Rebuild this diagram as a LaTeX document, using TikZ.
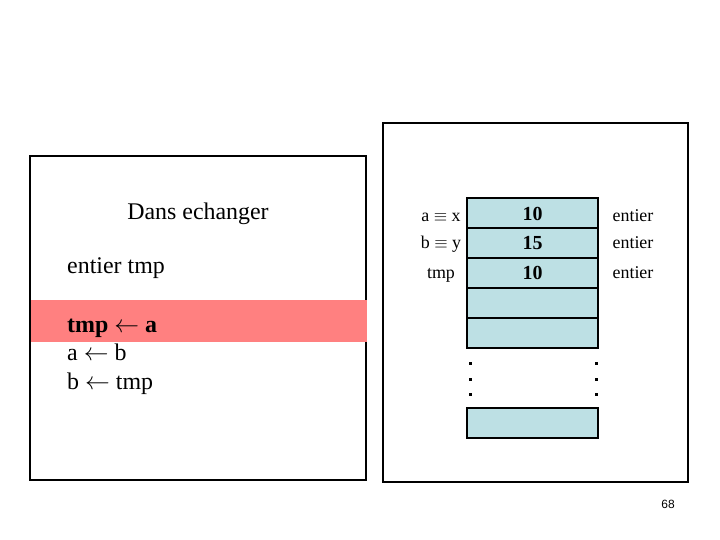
\documentclass[tikz,border=0pt]{standalone}
\usepackage{fontspec}
\setmainfont{Liberation Serif}
\newfontfamily\pagefont{Liberation Sans}
\usepackage{tikz}
\usetikzlibrary{positioning}
\definecolor{cellblue}{RGB}{189,224,228}
\definecolor{hilite}{RGB}{255,128,128}
\tikzset{
    frame/.style = {draw, line width=2.5bp},
    cell/.style = {draw, line width=2bp, fill=cellblue, minimum width=131bp,
                   minimum height=30bp, inner sep=0pt, outer sep=0pt},
    code/.style = {anchor=base west, inner sep=0pt, font=\fontsize{24}{24}\selectfont},
    lab/.style = {anchor=base, inner sep=0pt, font=\fontsize{18}{18}\selectfont},
    val/.style = {anchor=base, inner sep=0pt, font=\fontsize{20}{20}\selectfont\bfseries},
    dotmark/.style = {fill, minimum size=3bp, inner sep=0pt}
}
\begin{document}
\begin{tikzpicture}[x=1bp,y=-1bp]
    \useasboundingbox (0,0) rectangle (720,540);

    % left panel: the procedure
    \draw[frame] (30,156) rectangle (366,480);
    \fill[hilite] (31,300) rectangle (367,342);
    \node[code, anchor=base] (title) at (198,220) {Dans echanger};
    \node[code] (decl) at (67,274) {entier tmp};
    \node[code, font=\fontsize{24}{24}\selectfont\bfseries] (s1) at (67,332) {tmp $\leftarrow$ a};
    \node[code] (s2) at (67,360) {a $\leftarrow$ b};
    \node[code] (s3) at (67,389) {b $\leftarrow$ tmp};

    % right panel: the memory
    \draw[frame] (383,123) rectangle (688,482);
    \node[cell] (c1) at (532.5,213) {};
    \node[cell] (c2) [below=0pt of c1] {};
    \node[cell] (c3) [below=0pt of c2] {};
    \node[cell] (c4) [below=0pt of c3] {};
    \node[cell] (c5) [below=0pt of c4] {};
    \node[cell] (c6) at (532.5,423) {};

    \node[val] (v1) at (532.5,221) {10};
    \node[val] (v2) at (532.5,250) {15};
    \node[val] (v3) at (532.5,280) {10};

    \node[lab] (n1) at (441,222) {a $\equiv$ x};
    \node[lab] (n2) at (441,249) {b $\equiv$ y};
    \node[lab] (n3) at (441,279) {tmp};

    \node[lab] (t1) at (633,222) {entier};
    \node[lab] (t2) at (633,249) {entier};
    \node[lab] (t3) at (633,279) {entier};

    \foreach \y in {363,379,394} {
        \node[dotmark] at (470,\y) {};
        \node[dotmark] at (596,\y) {};
    }

    \node[inner sep=0pt, font=\pagefont\fontsize{12}{12}\selectfont] (page) at (668,504) {68};
\end{tikzpicture}
\end{document}
